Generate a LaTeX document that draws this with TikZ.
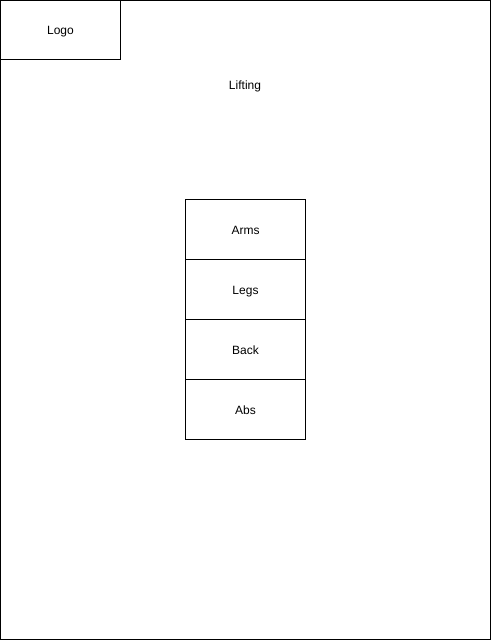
\documentclass[tikz,border=0pt]{standalone}
\usepackage{fontspec}
\setmainfont{Liberation Sans}
\begin{document}
\begin{tikzpicture}[x=1pt,y=-1pt,
  box/.style={draw,line width=1pt,minimum width=120pt,minimum height=60pt,inner sep=0pt,outer sep=0pt,anchor=north west,text height=11pt,text depth=2pt,font=\fontsize{12}{14}\selectfont},
  lbl/.style={font=\fontsize{12}{14}\selectfont,inner sep=0pt,text height=11pt,text depth=2pt}]
\useasboundingbox (0,0) rectangle (491,640);
\draw[line width=1pt] (0.5,0.5) rectangle (490.5,639.5);
\node[box] (logo) at (0.5,-0.5) {Logo};
\node[lbl] (lifting) at (245,85) {Lifting};
\node[box] (arms) at (185.5,199.5) {Arms};
\node[box] (legs) at (185.5,259.5) {Legs};
\node[box] (back) at (185.5,319.5) {Back};
\node[box] (abs) at (185.5,379.5) {Abs};
\end{tikzpicture}
\end{document}
